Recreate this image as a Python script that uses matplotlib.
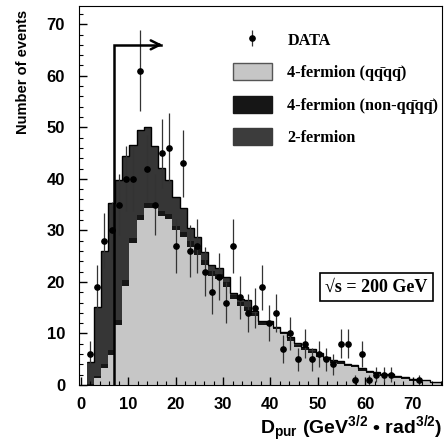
import numpy as np
import matplotlib
matplotlib.use("Agg")
from matplotlib import pyplot as plt
from matplotlib.patches import Patch
from matplotlib.ticker import MultipleLocator

# binning of D_pur
bin_lo = 1.2
bin_width = 1.51
n_bins = 50

# MC stack: 4-fermion (qqqq), 4-fermion (non-qqqq), 2-fermion
qqqq = [0.0, 1.3, 3.2, 5.8, 11.6, 19.3, 27.5, 32.0, 34.3, 34.3,
        32.8, 32.2, 30.0, 28.8, 26.7, 25.3, 23.2, 21.1, 20.6, 19.0,
        16.6, 15.3, 14.3, 13.3, 11.7, 11.7, 10.8, 9.8, 8.6, 7.3,
        6.7, 6.2, 5.5, 4.9, 4.3, 4.0, 3.6, 3.4, 2.8, 2.4,
        2.1, 1.7, 1.7, 1.4, 1.2, 0.8, 0.7, 0.7, 0.4, 0.3]
non_qqqq = [0.2, 0.5, 0.8, 1.0, 1.0, 1.0, 1.0, 1.0, 1.0, 1.0,
            0.9, 0.9, 0.8, 0.8, 1.2, 1.2, 1.1, 1.0, 1.0, 1.0,
            0.9, 0.8, 0.8, 0.7, 0.5, 0.5, 0.3, 0.3, 0.5, 0.5,
            0.4, 0.4, 0.4, 0.4, 0.4, 0.4, 0.3, 0.3, 0.3, 0.3,
            0.3, 0.3, 0.3, 0.2, 0.2, 0.2, 0.2, 0.2, 0.1, 0.1]
two_fermion = [4.2, 13.4, 21.9, 28.5, 27.2, 24.2, 18.0, 16.4, 14.8, 11.0,
               8.4, 6.7, 5.6, 4.7, 2.5, 2.2, 1.5, 1.2, 1.1, 0.9,
               0.3, 0.5, 1.3, 0.3, 0.2, 0.2, 0.1, 0.1, 0.3, 0.3,
               0.3, 0.3, 0.3, 0.2, 0.2, 0.2, 0.2, 0.2, 0.2, 0.1,
               0.1, 0.1, 0.1, 0.1, 0.1, 0.1, 0.1, 0.1, 0.1, 0.1]

# observed events per bin
data = [6, 19, 28, 30, 35, 40, 40, 61, 42, 35,
        45, 46, 27, 43, 26, 27, 22, 18, 21, 16,
        27, 17, 14, 15, 19, 12, 14, 7, 10, 5,
        8, 5, 6, 5, 4, 8, 8, 1, 6, 1,
        2, 2, 2, 0, 0, 0, 1, 0, 0, 0]

cut_value = 7.0

plt.rcParams["font.family"] = ["Liberation Sans", "DejaVu Sans"]
plt.rcParams["font.weight"] = "bold"
plt.rcParams["mathtext.fontset"] = "custom"
plt.rcParams["mathtext.rm"] = "Liberation Sans:bold"
plt.rcParams["mathtext.bf"] = "Liberation Sans:bold"
plt.rcParams["mathtext.it"] = "Liberation Sans:bold"

SERIF = ["Liberation Serif", "DejaVu Serif"]


def main():
    edges = bin_lo + bin_width * np.arange(n_bins + 1)
    centers = 0.5 * (edges[:-1] + edges[1:])
    light = np.array(qqqq)
    mid = light + np.array(non_qqqq)
    total = mid + np.array(two_fermion)
    counts = np.array(data, dtype=float)

    fig = plt.figure(figsize=(4.46, 4.43), dpi=100)
    ax = fig.add_axes([0.177, 0.131, 0.814, 0.855])

    ax.stairs(light, edges, baseline=0, fill=True, color="#c6c6c6", lw=0)
    ax.stairs(mid, edges, baseline=light, fill=True, color="#161616", lw=0)
    ax.stairs(total, edges, baseline=mid, fill=True, color="#363636", lw=0)
    ax.stairs(total, edges, baseline=None, color="black", lw=1.0)

    mask = counts > 0
    eb = ax.errorbar(centers[mask], counts[mask], yerr=np.sqrt(counts[mask]),
                     fmt="o", ms=3.8, color="black", ecolor="#333333",
                     elinewidth=0.9, capsize=0, zorder=5)

    # cut arrow
    ax.plot([cut_value, cut_value, 16.9], [0, 66, 66], color="black",
            lw=1.8, solid_joinstyle="miter", zorder=6)
    ax.annotate("", xy=(17.8, 66), xytext=(15.5, 66),
                arrowprops=dict(arrowstyle="->", lw=1.8, color="black",
                                mutation_scale=16), zorder=6)

    ax.set_xlim(-0.4, 76.2)
    ax.set_ylim(0, 73.5)
    ax.xaxis.set_major_locator(MultipleLocator(10))
    ax.xaxis.set_minor_locator(MultipleLocator(2))
    ax.yaxis.set_major_locator(MultipleLocator(10))
    ax.yaxis.set_minor_locator(MultipleLocator(2))
    ax.tick_params(which="both", direction="in", labelsize=12)
    ax.tick_params(which="major", length=6, width=1)
    ax.tick_params(which="minor", length=3, width=0.8)
    ax.tick_params(axis="x", which="major", pad=9)
    ax.tick_params(axis="y", which="major", pad=10)
    for lab in ax.get_xticklabels() + ax.get_yticklabels():
        lab.set_fontweight("bold")

    ax.set_ylabel("Number of events", fontsize=10.5, fontweight="bold",
                  loc="top")
    ax.yaxis.set_label_coords(-0.135, 0.99)
    ax.set_xlabel(r"D$_{\mathbf{pur}}$ (GeV$^{\mathbf{3/2}}$ " "\u2022"
                  r" rad$^{\mathbf{3/2}}$)",
                  fontsize=14, fontweight="bold", loc="right", labelpad=1)

    handles = [
        eb,
        Patch(facecolor="#c6c6c6", edgecolor="#555555", lw=1),
        Patch(facecolor="#161616", edgecolor="#161616"),
        Patch(facecolor="#3c3c3c", edgecolor="#3c3c3c"),
    ]
    labels = ["DATA", "4-fermion (qq\u0304qq\u0304)",
              "4-fermion (non-qq\u0304qq\u0304)", "2-fermion"]
    ax.legend(handles, labels, loc="upper left", bbox_to_anchor=(0.424, 0.935),
              frameon=False, handlelength=2.4, handleheight=1.25,
              handletextpad=0.95, labelspacing=0.88, borderpad=0,
              borderaxespad=0,
              prop={"family": SERIF, "weight": "bold", "size": 11.7})

    ax.text(0.82, 0.258, "\u221as = 200 GeV", transform=ax.transAxes,
            ha="center", va="center", fontsize=13, fontweight="bold",
            family=SERIF,
            bbox=dict(boxstyle="square,pad=0.3", facecolor="white",
                      edgecolor="black", lw=1.2))

    fig.savefig("out.png", dpi=100)


if __name__ == "__main__":
    main()
